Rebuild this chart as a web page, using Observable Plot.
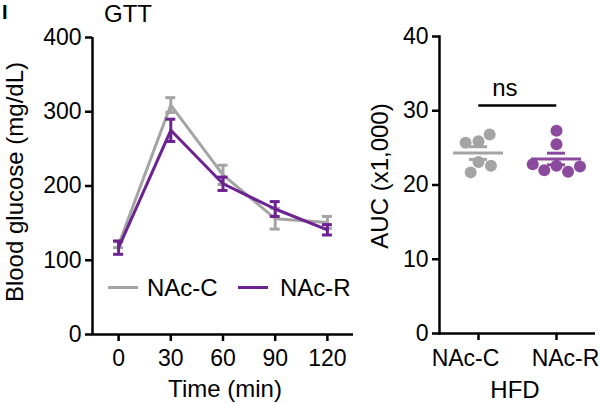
<!DOCTYPE html>
<html><head><meta charset="utf-8">
<script src="https://cdn.jsdelivr.net/npm/d3@7"></script>
<script src="https://cdn.jsdelivr.net/npm/@observablehq/plot@0.6"></script>
<style>
body{margin:0;background:#fff;}
#wrap{position:relative;width:600px;height:404px;overflow:hidden;font-family:"Liberation Sans",Arial,sans-serif;color:#000;}
.lbl{position:absolute;white-space:nowrap;font-size:23px;line-height:1;transform:translate(-50%,-50%);}
.rot{transform:translate(-50%,-50%) rotate(-90deg);}
.plot{position:absolute;top:0;}
.sw{position:absolute;height:3px;width:30px;}
</style></head><body>
<div id="wrap">
  <div id="left" class="plot" style="left:0"></div>
  <div id="right" class="plot" style="left:360px"></div>
  <div class="lbl" style="left:2px;top:2px;transform:none;font-weight:bold;font-size:20px;">I</div>
  <div class="lbl" style="left:128px;top:14px;font-size:24px;">GTT</div>
  <div class="lbl rot" style="left:15px;top:182px;font-size:24px;">Blood glucose (mg/dL)</div>
  <div class="lbl" style="left:225px;top:389px;font-size:24px;">Time (min)</div>
  <div class="lbl rot" style="left:380px;top:176px;font-size:24px;">AUC (x1,000)</div>
  <div class="lbl" style="left:515px;top:390px;font-size:24px;">HFD</div>
  <div id="legend"></div>
</div>
<script>
// ---- data ----
const times = [0, 30, 60, 90, 120];
const groups = ["NAc-C", "NAc-R"];
const gttMeanC = [121, 309, 215, 156, 151];
const gttSemC  = [4, 10, 13, 14, 8];
const gttMeanR = [117, 275, 203, 169, 141];
const gttSemR  = [9, 15, 9, 10, 7];
const aucC = [25.9, 25.7, 26.8, 23.1, 21.7, 22.6];
const aucR = [27.3, 25.5, 22.6, 22.0, 21.8, 22.5, 22.8];
const yTicksGTT = [0, 100, 200, 300, 400];
const yTicksAUC = [0, 10, 20, 30, 40];
const sigLabel = "ns";
const sigY = 30.7;

const lineColors = ["#a4a4a4", "#6c2391"];
const dotColors = ["#a4a4a4", "#8c4a9e"];
const FONT = '"Liberation Sans", Arial, sans-serif';

const series = [
  ...times.map((t, i) => ({group: groups[0], t, mean: gttMeanC[i], sem: gttSemC[i]})),
  ...times.map((t, i) => ({group: groups[1], t, mean: gttMeanR[i], sem: gttSemR[i]}))
];

const groupMarks = groups.flatMap(g => {
  const d = series.filter(s => s.group === g);
  return [
    Plot.ruleX(d, {x: "t", y1: s => s.mean - s.sem, y2: s => s.mean + s.sem, stroke: "group", strokeWidth: 3}),
    Plot.ruleY(d, {y: s => s.mean + s.sem, x1: "t", x2: "t", insetLeft: -5, insetRight: -5, stroke: "group", strokeWidth: 3}),
    Plot.ruleY(d, {y: s => s.mean - s.sem, x1: "t", x2: "t", insetLeft: -5, insetRight: -5, stroke: "group", strokeWidth: 3}),
    Plot.line(d, {x: "t", y: "mean", stroke: "group", strokeWidth: 3})
  ];
});

const left = Plot.plot({
  width: 360, height: 404,
  marginLeft: 92, marginRight: 7, marginTop: 37, marginBottom: 70,
  style: {fontFamily: FONT, fontSize: "23px", color: "#000", background: "transparent", overflow: "visible"},
  x: {domain: [-15, 135]},
  y: {domain: [0, 400]},
  color: {domain: groups, range: lineColors},
  marks: [
    ...groupMarks,
    Plot.ruleY([0], {strokeWidth: 2.5}),
    Plot.ruleX([-15], {strokeWidth: 2.5}),
    Plot.axisY({ticks: yTicksGTT, tickSize: 7, tickPadding: 4, strokeWidth: 2.5, label: null, fontSize: 23}),
    Plot.axisX({ticks: times, tickSize: 7, tickPadding: 8, strokeWidth: 2.5, label: null, fontSize: 23})
  ]
});
document.getElementById("left").append(left);

// ---- AUC panel ----
const aucData = [
  ...aucC.map(v => ({group: groups[0], v})),
  ...aucR.map(v => ({group: groups[1], v}))
];
const stats = groups.map(g => {
  const vs = aucData.filter(d => d.group === g).map(d => d.v);
  const m = d3.mean(vs), s = d3.deviation(vs) / Math.sqrt(vs.length);
  return {group: g, mean: m, lo: m - s, hi: m + s};
});
const RW = 240, RML = 78, RMR = 5;
const facetW = (RW - RML - RMR) / groups.length;
const labelShift = [-13, 9];

const right = Plot.plot({
  width: RW, height: 404,
  marginLeft: RML, marginRight: RMR, marginTop: 36, marginBottom: 71,
  style: {fontFamily: FONT, fontSize: "23px", color: "#000", background: "transparent", overflow: "visible"},
  fx: {domain: groups, padding: 0},
  y: {domain: [0, 40]},
  color: {domain: groups, range: dotColors},
  marks: [
    Plot.dot(aucData, Plot.dodgeX("middle", {fx: "group", y: "v", r: 6, fill: "group", padding: 3})),
    Plot.ruleY(stats, {fx: "group", y: "mean", insetLeft: 14, insetRight: 14, stroke: "group", strokeWidth: 3}),
    Plot.ruleX(stats, {fx: "group", y1: "lo", y2: "hi", stroke: "group", strokeWidth: 3}),
    Plot.ruleY(stats, {fx: "group", y: "hi", insetLeft: 30, insetRight: 30, stroke: "group", strokeWidth: 3}),
    Plot.ruleY(stats, {fx: "group", y: "lo", insetLeft: 30, insetRight: 30, stroke: "group", strokeWidth: 3}),
    Plot.ruleY([{group: groups[0], y: sigY}], {fx: "group", y: "y", insetLeft: facetW / 2, insetRight: -facetW / 2, strokeWidth: 2.5}),
    Plot.text([{group: groups[0], y: sigY, label: sigLabel}], {fx: "group", y: "y", text: "label", frameAnchor: "right", dy: -17, fontSize: 24}),
    Plot.ruleY([0], {strokeWidth: 2.5}),
    Plot.frame({anchor: "left", facetAnchor: "left", strokeWidth: 2.5}),
    Plot.axisY({ticks: yTicksAUC, tickSize: 7, tickPadding: 4, strokeWidth: 2.5, label: null, fontSize: 23}),
    Plot.axisFx({anchor: "bottom", tickSize: 7, tickFormat: () => "", strokeWidth: 2.5, label: null}),
    ...groups.map((g, i) => Plot.text([g], {fx: d => d, text: d => d, frameAnchor: "bottom", lineAnchor: "top", dy: 16, dx: labelShift[i], fontSize: 23}))
  ]
});
document.getElementById("right").append(right);

// ---- legend ----
const legend = document.getElementById("legend");
const legendPos = [{sw: 108, tx: 147}, {sw: 238, tx: 280}];
groups.forEach((g, i) => {
  const s = document.createElement("div");
  s.className = "sw";
  s.style.left = legendPos[i].sw + "px";
  s.style.top = "286px";
  s.style.background = lineColors[i];
  legend.append(s);
  const t = document.createElement("div");
  t.className = "lbl";
  t.style.transform = "translate(0,-50%)";
  t.style.fontSize = "24px";
  t.style.left = legendPos[i].tx + "px";
  t.style.top = "288px";
  t.textContent = g;
  legend.append(t);
});
</script>
</body></html>
